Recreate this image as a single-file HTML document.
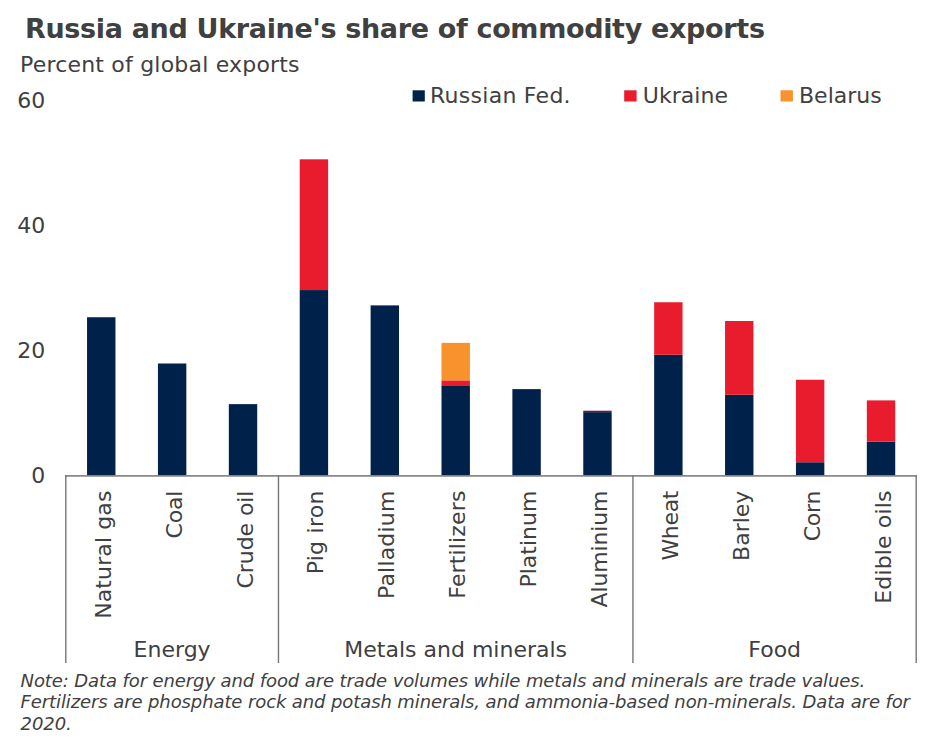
<!DOCTYPE html>
<html><head><meta charset="utf-8"><style>
html,body{margin:0;padding:0;background:#fff;}
body{width:936px;height:748px;overflow:hidden;position:relative;}
svg{position:absolute;left:0;top:0;}
text{font-family:"DejaVu Sans","Liberation Sans",sans-serif;fill:#404040;}
</style></head><body>
<svg width="936" height="748" viewBox="0 0 936 748">
<text x="25" y="37.55" font-size="27" font-weight="bold" letter-spacing="-0.33">Russia and Ukraine's share of commodity exports</text>
<text x="20" y="71.8" font-size="22" letter-spacing="0.2">Percent of global exports</text>
<rect x="412.6" y="90.3" width="12.2" height="11.2" fill="#00214a"/>
<text x="430" y="103.3" font-size="22" letter-spacing="0.27">Russian Fed.</text>
<rect x="624.2" y="90.3" width="12.4" height="11.2" fill="#e91c2d"/>
<text x="642.8" y="103.3" font-size="22" letter-spacing="0.05">Ukraine</text>
<rect x="780.5" y="90.3" width="12.4" height="11.2" fill="#f7922c"/>
<text x="799" y="103.3" font-size="22">Belarus</text>
<rect x="87.05" y="317.25" width="28.40" height="158.75" fill="#00214a"/>
<rect x="157.94" y="363.50" width="28.40" height="112.50" fill="#00214a"/>
<rect x="228.82" y="404.12" width="28.40" height="71.88" fill="#00214a"/>
<rect x="299.72" y="290.06" width="28.40" height="185.94" fill="#00214a"/>
<rect x="299.72" y="159.31" width="28.40" height="130.75" fill="#e91c2d"/>
<rect x="370.61" y="305.38" width="28.40" height="170.62" fill="#00214a"/>
<rect x="441.50" y="386.00" width="28.40" height="90.00" fill="#00214a"/>
<rect x="441.50" y="380.38" width="28.40" height="5.62" fill="#e91c2d"/>
<rect x="441.50" y="342.88" width="28.40" height="37.50" fill="#f7922c"/>
<rect x="512.38" y="389.12" width="28.40" height="86.88" fill="#00214a"/>
<rect x="583.27" y="412.12" width="28.40" height="63.88" fill="#00214a"/>
<rect x="583.27" y="410.69" width="28.40" height="1.44" fill="#7d1838"/>
<rect x="654.16" y="354.75" width="28.40" height="121.25" fill="#00214a"/>
<rect x="654.16" y="302.25" width="28.40" height="52.50" fill="#e91c2d"/>
<rect x="725.05" y="394.75" width="28.40" height="81.25" fill="#00214a"/>
<rect x="725.05" y="321.00" width="28.40" height="73.75" fill="#e91c2d"/>
<rect x="795.94" y="462.25" width="28.40" height="13.75" fill="#00214a"/>
<rect x="795.94" y="379.75" width="28.40" height="82.50" fill="#e91c2d"/>
<rect x="866.83" y="441.62" width="28.40" height="34.38" fill="#00214a"/>
<rect x="866.83" y="400.38" width="28.40" height="41.25" fill="#e91c2d"/>
<rect x="65.10" y="475.05" width="851.60" height="1.70" fill="#868686"/>
<rect x="65.10" y="475.05" width="1.40" height="187.95" fill="#777777"/>
<rect x="277.77" y="475.05" width="1.40" height="187.95" fill="#777777"/>
<rect x="632.22" y="475.05" width="1.40" height="187.95" fill="#777777"/>
<rect x="915.50" y="475.05" width="1.40" height="187.95" fill="#777777"/>
<text x="45.2" y="482.6" font-size="22" text-anchor="end" >0</text>
<text x="45.2" y="357.6" font-size="22" text-anchor="end" >20</text>
<text x="45.2" y="232.6" font-size="22" text-anchor="end" >40</text>
<text x="45.2" y="107.6" font-size="22" text-anchor="end" >60</text>
<text transform="translate(110.75,490.48) rotate(-90)" font-size="22" text-anchor="end" letter-spacing="0.12">Natural gas</text>
<text transform="translate(181.63,490.80) rotate(-90)" font-size="22" text-anchor="end" letter-spacing="-0.2">Coal</text>
<text transform="translate(252.52,490.69) rotate(-90)" font-size="22" text-anchor="end" letter-spacing="-0.09">Crude oil</text>
<text transform="translate(323.42,490.34) rotate(-90)" font-size="22" text-anchor="end" letter-spacing="0.26">Pig iron</text>
<text transform="translate(394.31,490.41) rotate(-90)" font-size="22" text-anchor="end" letter-spacing="0.19">Palladium</text>
<text transform="translate(465.19,490.45) rotate(-90)" font-size="22" text-anchor="end" letter-spacing="0.15">Fertilizers</text>
<text transform="translate(536.09,490.60) rotate(-90)" font-size="22" text-anchor="end">Platinum</text>
<text transform="translate(606.97,490.76) rotate(-90)" font-size="22" text-anchor="end" letter-spacing="-0.16">Aluminium</text>
<text transform="translate(677.87,490.95) rotate(-90)" font-size="22" text-anchor="end" letter-spacing="-0.35">Wheat</text>
<text transform="translate(748.75,490.60) rotate(-90)" font-size="22" text-anchor="end">Barley</text>
<text transform="translate(819.64,490.83) rotate(-90)" font-size="22" text-anchor="end" letter-spacing="-0.23">Corn</text>
<text transform="translate(890.53,490.46) rotate(-90)" font-size="22" text-anchor="end" letter-spacing="0.14">Edible oils</text>
<text x="172.13" y="656.8" font-size="22" text-anchor="middle" >Energy</text>
<text x="455.69" y="656.8" font-size="22" text-anchor="middle" >Metals and minerals</text>
<text x="774.7" y="656.8" font-size="22" text-anchor="middle" >Food</text>
<text font-size="18" font-style="italic" letter-spacing="-0.105">
<tspan x="20.6" y="687">Note: Data for energy and food are trade volumes while metals and minerals are trade values.</tspan>
<tspan x="20.6" y="708.3">Fertilizers are phosphate rock and potash minerals, and ammonia-based non-minerals. Data are for</tspan>
<tspan x="20.6" y="729.6">2020.</tspan>
</text>
</svg>
</body></html>
